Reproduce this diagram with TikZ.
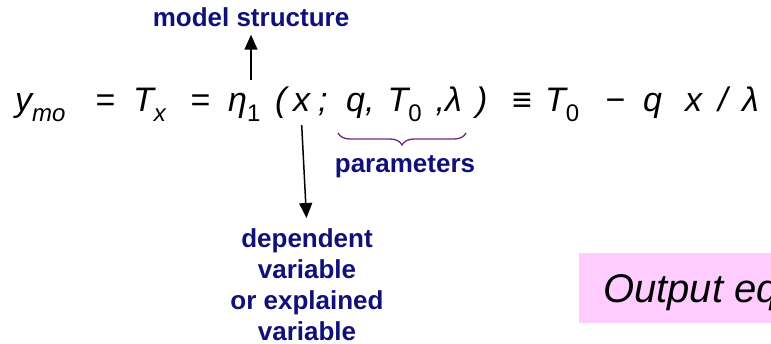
\documentclass[tikz,border=0pt]{standalone}
\usepackage{fontspec}
\setmainfont{Liberation Sans}
\usetikzlibrary{arrows.meta,positioning,decorations.pathreplacing}

\definecolor{labelblue}{RGB}{16,16,120}
\definecolor{boxpink}{RGB}{255,204,255}
\definecolor{bracepurple}{RGB}{110,40,130}
% small lowered index for the equation
\newcommand\ix[1]{\raisebox{-0.28em}{\fontsize{24}{24}\selectfont #1}}

\begin{document}
\begin{tikzpicture}[x=1pt,y=-1pt,
    eq/.style={inner sep=0pt,anchor=base west,font=\fontsize{34}{34}\selectfont\itshape},
    lbl/.style={inner sep=0pt,align=center,text=labelblue,font=\fontsize{26}{31}\selectfont\bfseries},
    arr/.style={-{Triangle[width=13pt,length=15pt]},line width=1.5pt}]
    \useasboundingbox (0,0) rectangle (771,344);
    \clip (0,0) rectangle (771,344);
    % equation, token by token
    \foreach \px/\tok [count=\i] in {15/{y\ix{mo}},95/{=},133/{T\ix{x}},190/{=},
        275/{(},318/{;},476/{)},512/{≡},545/{T\ix{\upshape 0}},605/{−},
        643/{q},685/{x},718/{/},742/{λ}}
        \node[eq] (e\i) at (\px,112) {\tok};
    \node[eq] (eta) at (228,112) {η\ix{\upshape 1}};
    \node[eq] (xvar) at (293,112) {x};
    \node[eq] (par) at (346,112) {q,\hspace{13pt}T\ix{\upshape 0}\hspace{14pt},λ};
    % labels
    \node[lbl] (struct) at (251,17) {model structure};
    \node[lbl] (params) at (405,167) {parameters};
    \node[lbl,anchor=north] (dep) at (307,228) {dependent\\variable\\or explained\\variable};
    % connectors
    \draw[arr,shorten >=8pt] ([yshift=14pt]struct.south |- eta.north) -- (struct.south);
    \draw[arr,shorten >=10pt] ([yshift=-13pt]xvar.south) -- (dep.north);
    \draw[bracepurple,line width=1.3pt,decorate,decoration={brace,amplitude=12pt}]
        ([xshift=4pt,yshift=-21pt]par.base east) -- ([xshift=-8pt,yshift=-21pt]par.base west);
    % output box
    \fill[boxpink] (579,253) rectangle (800,323);
    \node[inner sep=0pt,anchor=base west,font=\fontsize{40}{40}\selectfont\itshape] (out) at (603,303) {Output equation};
\end{tikzpicture}
\end{document}
